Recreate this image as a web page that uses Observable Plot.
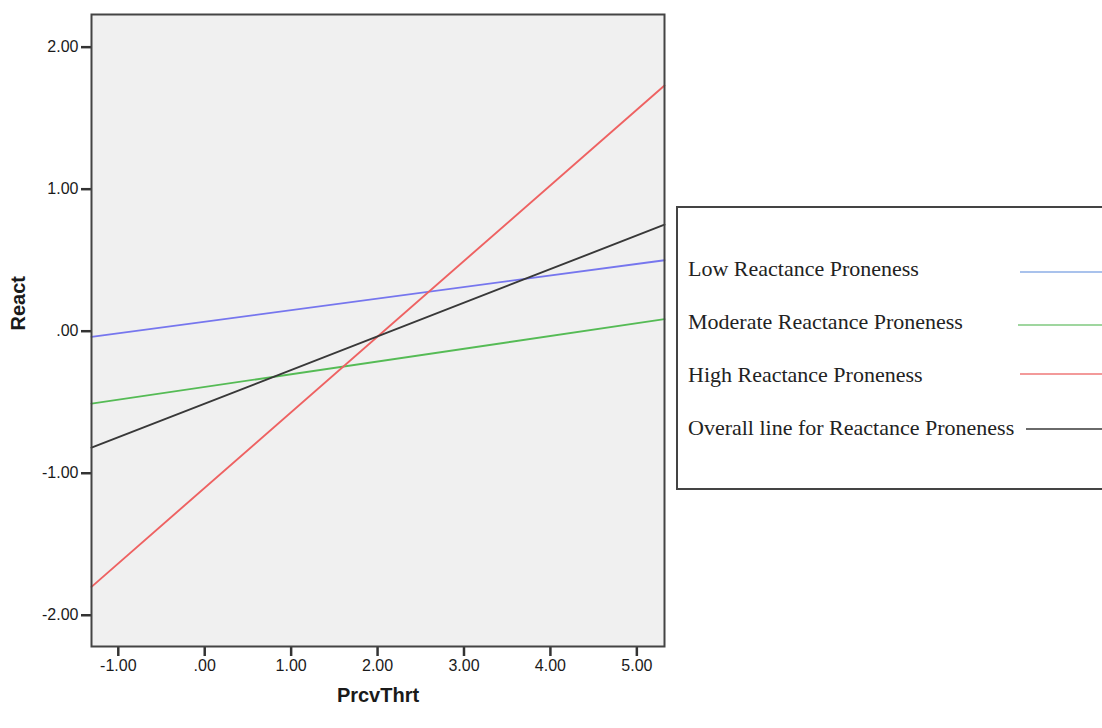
<!DOCTYPE html>
<html>
<head>
<meta charset="utf-8">
<script src="https://cdn.jsdelivr.net/npm/d3@7"></script>
<script src="https://cdn.jsdelivr.net/npm/@observablehq/plot@0.6"></script>
<style>
  html, body { margin: 0; padding: 0; background: #fff; }
  #wrap { position: relative; width: 1102px; height: 728px; overflow: hidden; }
  #legend {
    position: absolute; left: 676px; top: 206px; width: 440px; height: 280px;
    border: 2px solid #444; background: #fff; box-sizing: content-box;
    font-family: "Liberation Serif", "Times New Roman", serif; font-size: 22px; color: #222;
  }
  .row { position: absolute; left: 10px; white-space: nowrap; }
  .sw { position: absolute; height: 2px; right: 0; }
</style>
</head>
<body>
<div id="wrap"></div>
<script>
// ---- data ----
const xEnds = [-1.31, 5.32];
const lowVals = [-0.04, 0.50];
const moderateVals = [-0.51, 0.085];
const highVals = [-1.80, 1.73];
const overallVals = [-0.82, 0.75];
const seriesNames = ["Low Reactance Proneness", "Moderate Reactance Proneness", "High Reactance Proneness", "Overall line for Reactance Proneness"];
const lineColors = ["#7676ee", "#55bb55", "#ee6262", "#383838"];
const legendColors = ["#a9c2ec", "#9fd69f", "#f39a9a", "#6a6a6a"];
const xTicks = [-1, 0, 1, 2, 3, 4, 5];
const yTicks = [-2, -1, 0, 1, 2];
const xLabel = "PrcvThrt";
const yLabel = "React";

const allVals = [lowVals, moderateVals, highVals, overallVals];
const rows = [];
allVals.forEach((vals, i) => vals.forEach((v, j) => rows.push({series: seriesNames[i], x: xEnds[j], y: v})));

const fmt = v => v === 0 ? ".00" : v.toFixed(2);

const chart = Plot.plot({
  width: 1102,
  height: 728,
  marginLeft: 91,
  marginRight: 438,
  marginTop: 14,
  marginBottom: 82,
  style: {fontFamily: "'Liberation Sans', Arial, sans-serif", fontSize: "16px", background: "#fff", color: "#1a1a1a"},
  x: {domain: [-1.31, 5.32]},
  y: {domain: [-2.22, 2.23]},
  color: {domain: seriesNames, range: lineColors},
  marks: [
    Plot.frame({fill: "#f0f0f0"}),
    Plot.axisX({ticks: xTicks, tickFormat: fmt, tickSize: 10, tickPadding: 3, stroke: "#333", strokeWidth: 2.5, fontSize: 16, fill: "#1a1a1a", label: null}),
    Plot.axisY({ticks: yTicks, tickFormat: fmt, tickSize: 10, tickPadding: 3, stroke: "#333", strokeWidth: 2.5, fontSize: 16, fill: "#1a1a1a", label: null}),
    Plot.line(rows, {x: "x", y: "y", z: "series", stroke: "series", strokeWidth: 1.9}),
    Plot.frame({stroke: "#444", strokeWidth: 2}),
    Plot.text([yLabel], {frameAnchor: "left", dx: -73, rotate: -90, text: d => d, fontWeight: "bold", fontSize: 20, fill: "#1a1a1a"}),
    Plot.text([xLabel], {frameAnchor: "bottom", dy: 55, text: d => d, fontWeight: "bold", fontSize: 20, fill: "#1a1a1a"})
  ]
});

const wrap = document.getElementById("wrap");
wrap.appendChild(chart);

// legend (HTML, real text)
const legend = document.createElement("div");
legend.id = "legend";
const rowTops = [48, 101, 154, 207];   // relative to legend box top
const swY = [63, 116, 165, 220];
const swLeft = [342, 340, 342, 348];
seriesNames.forEach((name, i) => {
  const r = document.createElement("div");
  r.className = "row";
  r.style.top = rowTops[i] + "px";
  r.textContent = name;
  legend.appendChild(r);
  const s = document.createElement("div");
  s.className = "sw";
  s.style.top = swY[i] + "px";
  s.style.left = swLeft[i] + "px";
  s.style.background = legendColors[i];
  legend.appendChild(s);
});
wrap.appendChild(legend);
</script>
</body>
</html>
